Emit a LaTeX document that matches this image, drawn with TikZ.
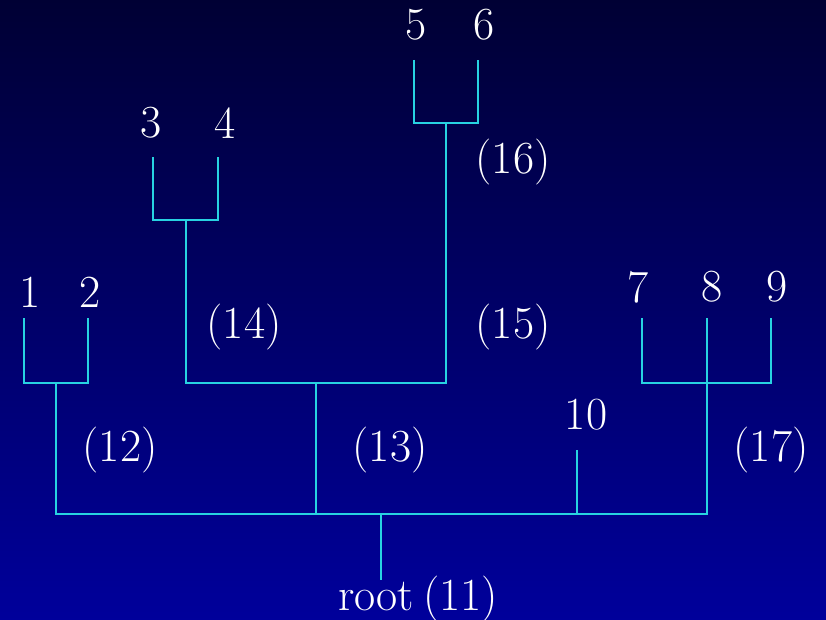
\documentclass[tikz,border=0pt]{standalone}
\begin{document}
\begin{tikzpicture}[x=1pt,y=-1pt,
  br/.style={draw={rgb,255:red,40;green,210;blue,225}, line width=1.3pt},
  lab/.style={text=white, font=\fontsize{46}{52}\selectfont, inner sep=0pt}]
\definecolor{bgtop}{RGB}{0,0,52}
\definecolor{bgbot}{RGB}{0,0,155}
\shade[top color=bgtop, bottom color=bgbot] (0,0) rectangle (826,620);
\useasboundingbox (0,0) rectangle (826,620);
% leaf labels
\node[lab] (n1) at (30,292) {1};
\node[lab] (n2) at (90,292) {2};
\node[lab] (n3) at (151,123) {3};
\node[lab] (n4) at (225,123) {4};
\node[lab] (n5) at (416,25) {5};
\node[lab] (n6) at (484,25) {6};
\node[lab] (n7) at (638,287) {7};
\node[lab] (n8) at (712,287) {8};
\node[lab] (n9) at (777,287) {9};
\node[lab] (n10) at (586,415) {10};
% internal labels
\node[lab] (l12) at (120,450) {(12)};
\node[lab] (l13) at (390,450) {(13)};
\node[lab] (l14) at (244,327) {(14)};
\node[lab] (l15) at (513,327) {(15)};
\node[lab] (l16) at (513,162) {(16)};
\node[lab] (l17) at (771,450) {(17)};
\node[lab, anchor=base] (l11) at (418,610) {root\hspace{0.2em}(11)};
% coordinates
\coordinate (t1) at (24,318);
\coordinate (t2) at (88,318);
\coordinate (t3) at (153,157);
\coordinate (t4) at (218,157);
\coordinate (t5) at (414,60);
\coordinate (t6) at (478,60);
\coordinate (t7) at (642,318);
\coordinate (t8) at (707,318);
\coordinate (t9) at (771,318);
\coordinate (t10) at (577,450);
\coordinate (j12) at (56,383);
\coordinate (j14) at (186,220);
\coordinate (j16) at (446,123);
\coordinate (j15) at (316,383);
\coordinate (j17) at (707,383);
\coordinate (j11) at (381,514);
\coordinate (r) at (381,580);
% brackets
\draw[br] (t1) -- (t1 |- j12) -- (t2 |- j12) -- (t2);
\draw[br] (t3) -- (t3 |- j14) -- (t4 |- j14) -- (t4);
\draw[br] (t5) -- (t5 |- j16) -- (t6 |- j16) -- (t6);
\draw[br] (t7) -- (t7 |- j17) -- (t9 |- j17) -- (t9);
\draw[br] (t8) -- (j17);
\draw[br] (j14) -- (j14 |- j15) -- (j16 |- j15) -- (j16);
\draw[br] (j12) -- (j12 |- j11) -- (j17 |- j11) -- (j17);
\draw[br] (j15) -- (j15 |- j11);
\draw[br] (t10) -- (t10 |- j11);
\draw[br] (j11) -- (r);
\end{tikzpicture}
\end{document}
